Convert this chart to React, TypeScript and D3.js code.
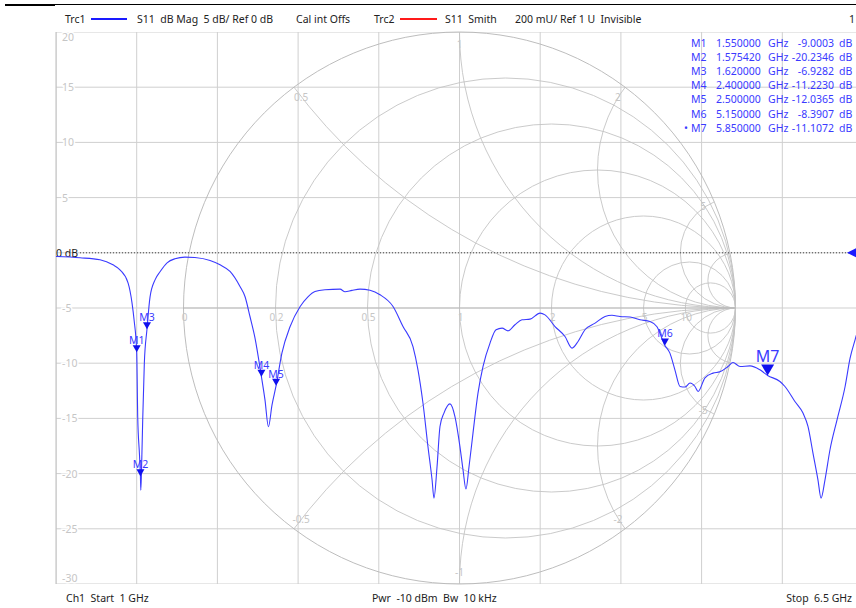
import React from "react";
import * as d3 from "d3";

// ---- data ----
const startGHz = 1;
const stopGHz = 6.5;
const dbTicks = [20, 15, 10, 5, 0, -5, -10, -15, -20, -25, -30];
const freqDivisions = 10;

const freqGHz = [
  1.0, 1.164, 1.3, 1.388, 1.436, 1.491, 1.518, 1.532, 1.55, 1.557, 1.569, 1.5754, 1.578, 1.583, 1.591, 1.602,
  1.62, 1.641, 1.675, 1.709, 1.757, 1.811, 1.879, 1.947, 2.05, 2.118, 2.186, 2.254, 2.288, 2.322, 2.356, 2.4,
  2.424, 2.448, 2.472, 2.5, 2.54, 2.595, 2.663, 2.717, 2.765, 2.833, 2.936, 2.97, 3.017, 3.072, 3.14, 3.208,
  3.297, 3.365, 3.433, 3.467, 3.501, 3.535, 3.563, 3.576, 3.597, 3.617, 3.644, 3.685, 3.719, 3.753, 3.774, 3.794,
  3.815, 3.842, 3.876, 3.91, 3.958, 3.999, 4.04, 4.081, 4.128, 4.176, 4.231, 4.299, 4.333, 4.401, 4.469, 4.517,
  4.558, 4.605, 4.674, 4.742, 4.789, 4.844, 4.912, 4.98, 5.048, 5.096, 5.15, 5.184, 5.218, 5.253, 5.287, 5.321,
  5.355, 5.376, 5.423, 5.478, 5.525, 5.58, 5.614, 5.662, 5.73, 5.798, 5.85, 5.934, 5.968, 6.036, 6.091, 6.125,
  6.159, 6.193, 6.214, 6.241, 6.275, 6.323, 6.378, 6.412, 6.446, 6.5,
];
const s11dB = [
  -0.34, -0.45, -0.63, -1.09, -1.54, -2.72, -4.53, -6.07, -9.0, -14.9, -18.3, -20.23, -21.5, -19.6, -15.1, -10.0,
  -6.93, -3.99, -2.45, -1.72, -0.91, -0.54, -0.39, -0.43, -0.7, -1.09, -1.69, -3.05, -3.96, -5.77, -7.7, -11.22,
  -13.3, -15.76, -13.8, -12.04, -9.06, -6.7, -4.89, -3.99, -3.51, -3.35, -3.29, -3.53, -3.4, -3.29, -3.4, -3.8,
  -4.86, -6.68, -8.49, -10.6, -13.61, -17.55, -20.56, -22.22, -19.36, -15.73, -14.52, -13.68, -14.83, -17.55, -19.66, -21.4,
  -19.36, -16.33, -12.71, -10.3, -8.18, -6.97, -6.82, -7.07, -6.52, -6.07, -6.01, -5.46, -5.62, -6.68, -7.58, -8.63,
  -8.03, -6.97, -6.37, -5.77, -5.66, -5.77, -5.82, -6.07, -6.22, -6.7, -8.39, -9.09, -10.6, -12.11, -12.16, -11.8,
  -12.11, -12.56, -11.32, -10.9, -10.78, -10.3, -9.94, -10.3, -10.24, -10.6, -11.11, -11.66, -12.11, -13.47, -14.52, -15.73,
  -18.14, -20.56, -22.22, -20.56, -17.84, -15.13, -12.11, -9.54, -7.88, -5.5,
];

const markerNames = ["M1", "M2", "M3", "M4", "M5", "M6", "M7"];
const markerGHz = [1.55, 1.57542, 1.62, 2.4, 2.5, 5.15, 5.85];
const markerDb = [-9.0003, -20.2346, -6.9282, -11.223, -12.0365, -8.3907, -11.1072];
const activeMarker = "M7";

const smithR = [0.2, 0.5, 1, 2, 5, 10];
const smithRLabels = ["0", "0.2", "0.5", "1", "2", "5", "10"];
const smithX = [0.5, 1, 2, 5, 10];
const smithXLabels = [0.5, 1, 2, 5];

const FONT = "'Noto Sans', 'Open Sans', sans-serif";
const GRID = "#cfcfcf";
const SMITH = "#c4c4c4";
const LABEL_GRAY = "#c6c6c6";
const BLUE = "#3a3aff";

const locale = d3.formatLocale({ decimal: ".", thousands: ",", grouping: [3], currency: ["", ""], minus: "-" });

export default function App() {
  const x = d3.scaleLinear().domain([startGHz, stopGHz]).range([56, 863]);
  const y = d3.scaleLinear().domain([-30, 20]).range([584, 32]);
  const [x0, x1] = x.range();
  const cx = (x0 + x1) / 2;
  const cy = (y(20) + y(-30)) / 2;
  const R = (y(-30) - y(20)) / 2;
  const gx = d3.scaleLinear().domain([-1, 1]).range([cx - R, cx + R]);
  const gy = d3.scaleLinear().domain([-1, 1]).range([cy + R, cy - R]);

  const freqGrid = d3.range(freqDivisions + 1).map((i) => startGHz + (i * (stopGHz - startGHz)) / freqDivisions);

  const line = d3
    .line<number>()
    .x((_, i) => x(freqGHz[i]))
    .y((d) => y(d))
    .curve(d3.curveMonotoneX);

  const fmtF = locale.format(".6f");
  const fmtV = locale.format(".4f");

  // label placement for reactance arcs: intersection with unit circle, moved inward
  const xLabelPos = (X: number) => {
    const gr = (X * X - 1) / (X * X + 1);
    const gi = (2 * X) / (X * X + 1);
    const k = (R - 12) / R;
    return [gx(gr * k), gy(gi * k)];
  };

  const txt = { fontFamily: FONT, fontSize: 10.5, fill: "#222", whiteSpace: "pre" as const };

  return (
    <svg
      width={856}
      height={608}
      style={{ position: "absolute", left: 0, top: 0, background: "#fff" }}
    >
      <defs>
        <clipPath id="plotClip">
          <rect x={x0} y={y(20)} width={x1 - x0} height={y(-30) - y(20)} />
        </clipPath>
        <clipPath id="smithClip">
          <circle cx={cx} cy={cy} r={R} />
        </clipPath>
      </defs>
      <rect x={0} y={0} width={856} height={608} fill="#fff" />

      {/* top rule */}
      <line x1={5} x2={856} y1={4.5} y2={4.5} stroke="#000" strokeWidth={1} />
      <line x1={5} x2={55} y1={5} y2={5} stroke="#000" strokeWidth={2} />

      {/* header */}
      <text x={65} y={23} style={txt}>Trc1</text>
      <line x1={91} x2={127} y1={19} y2={19} stroke="#1a1aff" strokeWidth={2} />
      <text x={137} y={23} style={txt}>S11  dB Mag  5 dB/ Ref 0 dB</text>
      <text x={296} y={23} style={txt}>Cal int Offs</text>
      <text x={374} y={23} style={txt}>Trc2</text>
      <line x1={400} x2={437} y1={19} y2={19} stroke="#ff1a1a" strokeWidth={2} />
      <text x={445} y={23} style={txt}>S11  Smith</text>
      <text x={515} y={23} style={txt}>200 mU/ Ref 1 U  Invisible</text>
      <text x={849} y={23} style={txt}>1</text>

      {/* rectangular grid */}
      <g clipPath="url(#plotClip)">
        {freqGrid.map((f, i) => (
          <line key={"v" + i} x1={x(f)} x2={x(f)} y1={y(20)} y2={y(-30)} stroke={GRID} strokeWidth={1} />
        ))}
        {dbTicks.map((t) => (
          <line key={"h" + t} x1={x0} x2={x1} y1={y(t)} y2={y(t)} stroke={GRID} strokeWidth={1} />
        ))}
      </g>
      <line x1={x0} x2={x0} y1={y(20)} y2={y(-30)} stroke="#bdbdbd" />

      {/* smith chart */}
      <g fill="none" stroke={SMITH} strokeWidth={0.9}>
        <circle cx={cx} cy={cy} r={R} stroke="#b5b5b5" />
        {smithR.map((r) => (
          <circle key={"r" + r} cx={gx(r / (1 + r))} cy={cy} r={R / (1 + r)} />
        ))}
        <g clipPath="url(#smithClip)">
          {smithX.map((X) => (
            <g key={"x" + X}>
              <circle cx={gx(1)} cy={gy(1 / X)} r={R / X} />
              <circle cx={gx(1)} cy={gy(-1 / X)} r={R / X} />
            </g>
          ))}
        </g>
        <line x1={cx - R} x2={cx + R} y1={cy} y2={cy} stroke="#b8b8b8" />
      </g>
      <g style={{ fontFamily: FONT, fontSize: 10 }} fill={LABEL_GRAY} textAnchor="middle">
        {smithRLabels.map((l) => {
          const r = +l;
          return (
            <text key={"rl" + l} x={gx((r - 1) / (r + 1)) + 1} y={cy + 13}>
              {l}
            </text>
          );
        })}
        {smithXLabels.map((X) => {
          const [px, py] = xLabelPos(X);
          const [nx, ny] = xLabelPos(-X);
          return (
            <g key={"xl" + X}>
              <text x={px} y={py + 4}>{String(X)}</text>
              <text x={nx} y={ny + 4}>{"-" + X}</text>
            </g>
          );
        })}
      </g>

      {/* y labels */}
      <g style={{ fontFamily: FONT, fontSize: 10.5 }} fill={LABEL_GRAY}>
        {dbTicks
          .filter((t) => t !== 0)
          .map((t) => {
            const yy = t === 20 ? y(t) + 9 : t === -30 ? y(t) - 2 : y(t) + 4;
            return (
              <text key={"yl" + t} x={62} y={yy} stroke="#fff" strokeWidth={3} paintOrder="stroke">
                {String(t)}
              </text>
            );
          })}
      </g>

      {/* 0 dB reference */}
      <line x1={80} x2={x1} y1={y(0)} y2={y(0)} stroke="#444" strokeWidth={1} strokeDasharray="1,2" />
      <text x={56} y={y(0) + 4} style={{ fontFamily: FONT, fontSize: 10.5, fill: "#222" }}>0 dB</text>
      <path d={`M${847},${y(0)} L856,${y(0) - 4.5} L856,${y(0) + 4.5} Z`} fill="#1a1aff" />

      {/* trace */}
      <g clipPath="url(#plotClip)">
        <path d={line(s11dB) || ""} fill="none" stroke={BLUE} strokeWidth={1.1} />
      </g>

      {/* markers */}
      {markerNames.map((m, i) => {
        const px = x(markerGHz[i]);
        const py = y(markerDb[i]);
        const big = m === activeMarker;
        const w = big ? 6.5 : 4;
        const h = big ? 11 : 7;
        return (
          <g key={m}>
            <path d={`M${px},${py} L${px - w},${py - h} L${px + w},${py - h} Z`} fill="#1010ee" />
            <text
              x={px}
              y={py - h - (big ? 2 : 1)}
              textAnchor="middle"
              style={{ fontFamily: FONT, fontSize: big ? 16 : 10.5, fill: BLUE }}
            >
              {m}
            </text>
          </g>
        );
      })}

      {/* marker table */}
      <g style={{ fontFamily: FONT, fontSize: 10.5 }} fill={BLUE}>
        {markerNames.map((m, i) => {
          const yy = 46.5 + i * 14.2;
          return (
            <g key={"t" + m}>
              {m === activeMarker && <text x={684} y={yy}>•</text>}
              <text x={691} y={yy}>{m}</text>
              <text x={716} y={yy}>{fmtF(markerGHz[i])}</text>
              <text x={768} y={yy}>GHz</text>
              <text x={834} y={yy} textAnchor="end">{fmtV(markerDb[i])}</text>
              <text x={839} y={yy}>dB</text>
            </g>
          );
        })}
      </g>

      {/* footer */}
      <text x={66} y={602} style={txt}>Ch1  Start  1 GHz</text>
      <text x={372} y={602} style={txt}>Pwr  -10 dBm  Bw  10 kHz</text>
      <text x={852} y={602} textAnchor="end" style={txt}>Stop  6.5 GHz</text>
    </svg>
  );
}
